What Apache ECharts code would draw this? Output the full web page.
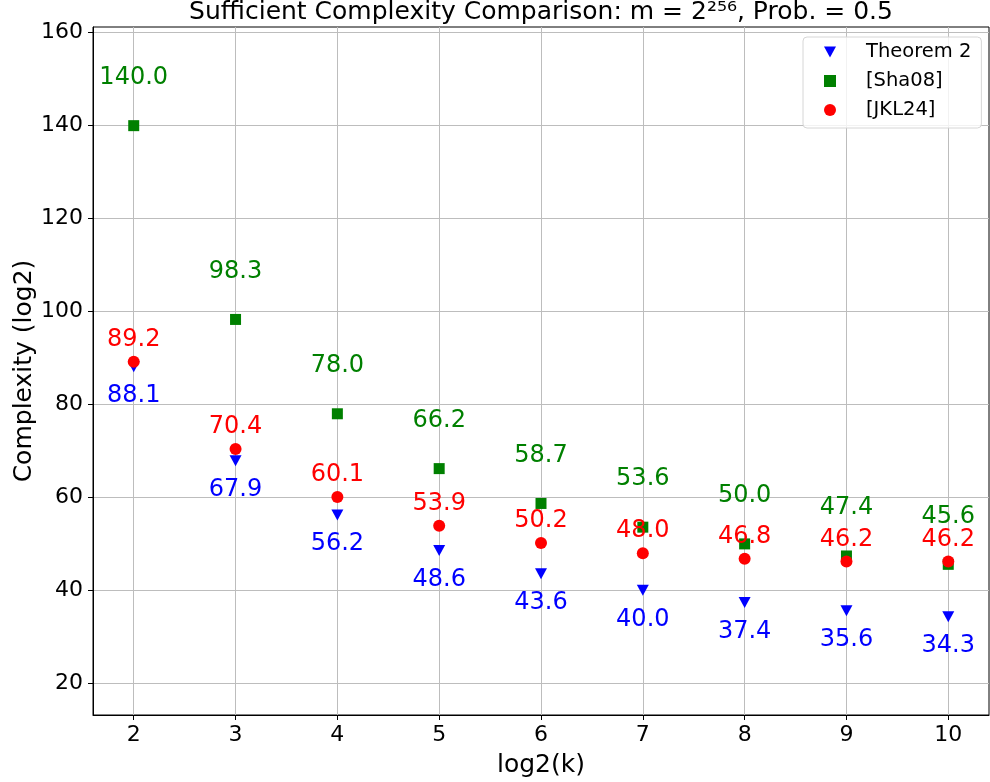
<!DOCTYPE html>
<html>
<head>
<meta charset="utf-8">
<script src="https://cdn.jsdelivr.net/npm/echarts@6/dist/echarts.min.js"></script>
<style>html,body{margin:0;padding:0;background:#fff;}#c{width:990px;height:782px;}</style>
</head>
<body>
<div id="c"></div>
<script>
const log2k = [2, 3, 4, 5, 6, 7, 8, 9, 10];
const theorem2 = [88.1, 67.9, 56.2, 48.6, 43.6, 40.0, 37.4, 35.6, 34.3];
const sha08 = [140.0, 98.3, 78.0, 66.2, 58.7, 53.6, 50.0, 47.4, 45.6];
const jkl24 = [89.2, 70.4, 60.1, 53.9, 50.2, 48.0, 46.8, 46.2, 46.2];
const xTicks = [2, 3, 4, 5, 6, 7, 8, 9, 10];
const yTicks = [20, 40, 60, 80, 100, 120, 140, 160];
const seriesNames = ['Theorem 2', '[Sha08]', '[JKL24]'];
const titleText = 'Sufficient Complexity Comparison: m = 2\u00B2\u2075\u2076, Prob. = 0.5';

const FONT = 'DejaVu Sans';
const pairs = arr => log2k.map((x, i) => [x, arr[i]]);
const lbl = (color, dy) => ({
  show: true, position: 'inside', offset: [0, dy], opacity: 1,
  formatter: p => p.value[1].toFixed(1),
  color: color, fontFamily: FONT, fontSize: 24
});
const downTri = 'path://M0,0 L2,0 L1,1.8 Z';

const chart = echarts.init(document.getElementById('c'), null, {renderer: 'canvas'});
chart.setOption({
  animation: false,
  backgroundColor: '#fff',
  graphic: [{
    type: 'text', x: 541, y: 25,
    style: {text: titleText, x: 0, y: 0, align: 'center', verticalAlign: 'bottom',
      font: '25px "DejaVu Sans"', fill: '#000'}
  }],
  grid: {left: 93, top: 27, right: 1, bottom: 67, outerBoundsMode: 'none', containLabel: false,
    show: true, borderColor: '#000', borderWidth: 1},
  legend: {
    orient: 'vertical', left: 803, top: 37,
    padding: [5, 10, 8, 21], itemGap: 9, itemWidth: 12, itemHeight: 12,
    backgroundColor: 'rgba(255,255,255,0.8)', borderColor: '#d6d6d6', borderWidth: 1, borderRadius: 4,
    textStyle: {fontFamily: FONT, fontSize: 19.5, color: '#000', lineHeight: 20, padding: [0, 0, 0, 25]},
    data: [
      {name: seriesNames[0], icon: downTri, itemStyle: {color: '#0000ff', opacity: 1}},
      {name: seriesNames[1], icon: 'rect', itemStyle: {color: '#008000', opacity: 1}},
      {name: seriesNames[2], icon: 'circle', itemStyle: {color: '#ff0000', opacity: 1}}
    ]
  },
  xAxis: {
    type: 'value', min: 1.6, max: 10.4,
    name: 'log2(k)', nameLocation: 'middle', nameGap: 38, nameMoveOverlap: false,
    nameTextStyle: {fontFamily: FONT, fontSize: 25, color: '#000'},
    axisLine: {show: true, onZero: false, lineStyle: {color: '#000', width: 1}},
    axisTick: {show: true, length: 5, customValues: xTicks, lineStyle: {color: '#000'}},
    axisLabel: {customValues: xTicks, fontFamily: FONT, fontSize: 22, color: '#000', margin: 9,
      formatter: v => String(Math.round(v))},
    splitLine: {show: true, lineStyle: {color: '#bdbdbd', width: 1}}
  },
  yAxis: {
    type: 'value', min: 13.18, max: 161.23,
    name: 'Complexity (log2)', nameLocation: 'middle', nameGap: 56, nameMoveOverlap: false,
    nameTextStyle: {fontFamily: FONT, fontSize: 25, color: '#000'},
    axisLine: {show: true, onZero: false, lineStyle: {color: '#000', width: 1}},
    axisTick: {show: true, length: 5, customValues: yTicks, lineStyle: {color: '#000'}},
    axisLabel: {customValues: yTicks, fontFamily: FONT, fontSize: 22, color: '#000', margin: 10,
      formatter: v => String(Math.round(v))},
    splitLine: {show: true, lineStyle: {color: '#bdbdbd', width: 1}}
  },
  series: [
    {name: seriesNames[0], type: 'scatter', symbol: downTri, symbolSize: [12, 11],
      itemStyle: {color: '#0000ff', opacity: 1}, data: pairs(theorem2), label: lbl('#0000ff', 29), z: 3},
    {name: seriesNames[1], type: 'scatter', symbol: 'rect', symbolSize: 11,
      itemStyle: {color: '#008000', opacity: 1}, data: pairs(sha08), label: lbl('#008000', -48), z: 3},
    {name: seriesNames[2], type: 'scatter', symbol: 'circle', symbolSize: 12,
      itemStyle: {color: '#ff0000', opacity: 1}, data: pairs(jkl24), label: lbl('#ff0000', -22), z: 3}
  ]
});
</script>
</body>
</html>
